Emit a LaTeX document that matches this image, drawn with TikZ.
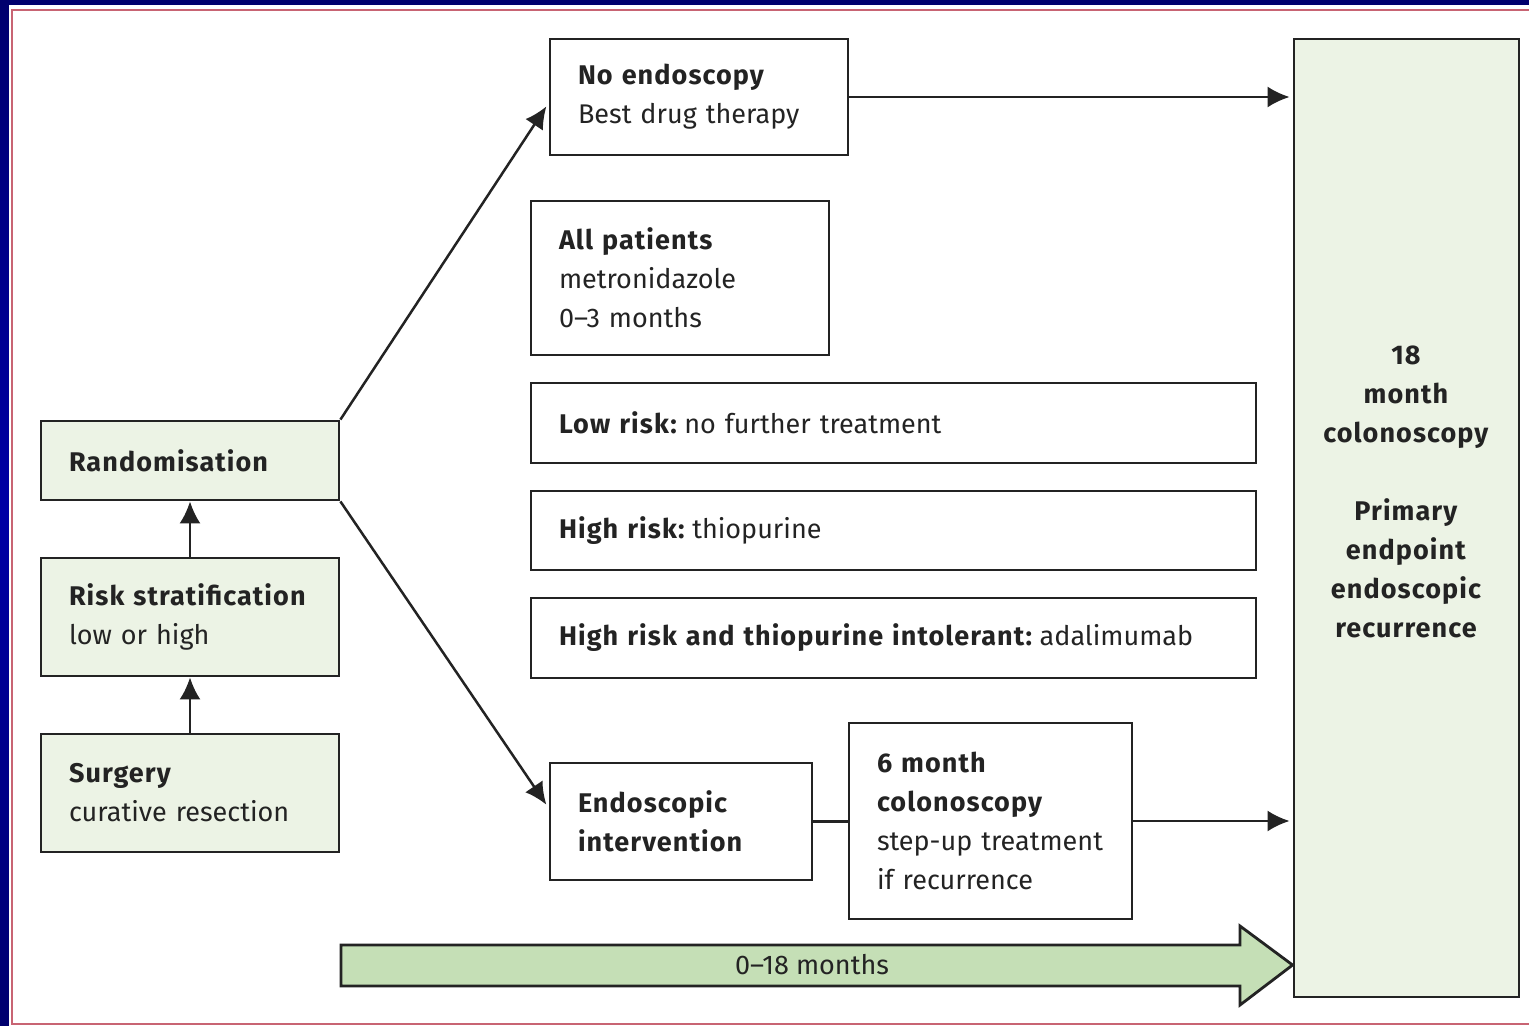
\documentclass[tikz,border=0pt]{standalone}
\usepackage{fontspec}
\setmainfont{Fira Sans}[BoldFeatures={LetterSpace=4}]
\usetikzlibrary{arrows.meta,calc}
\definecolor{navytop}{RGB}{0,0,110}
\definecolor{navymid}{RGB}{0,0,165}
\definecolor{redline}{RGB}{200,100,115}
\definecolor{boxgreen}{RGB}{236,243,229}
\definecolor{arrowgreen}{RGB}{197,223,182}
\definecolor{ink}{RGB}{35,35,35}
\newcommand{\tightgap}{\hspace{-3.5pt}}
\begin{document}
\begin{tikzpicture}[x=0.5pt,y=-0.5pt,
 box/.style={draw=ink, line width=1.4pt, rectangle, inner xsep=14pt, inner ysep=0pt,
   align=left, font=\fontsize{13.5}{19.5}\selectfont, text=ink},
 gbox/.style={box, fill=boxgreen},
 conn/.style={draw=ink, line width=1.25pt},
 arr/.style={conn, -{Latex[length=11pt,width=10.5pt]}},
 lbl/.style={font=\fontsize{13.5}{19.5}\selectfont, text=ink, inner sep=0pt}
]
\useasboundingbox (0,0) rectangle (1529,1026);
\shade[top color=navytop, bottom color=navytop, middle color=navymid] (0,0) rectangle (1529,1026);
\fill[white] (9,5) rectangle (1529,1026);
\draw[redline, line width=1pt] (1540,1024) -- (12,1024) -- (12,10) -- (1540,10);

% left column
\node[gbox, minimum width=149pt, minimum height=39.5pt, text width=121pt] (rd) at (190,460.5) {\textbf{Randomisation}};
\node[gbox, minimum width=149pt, minimum height=59pt, text width=121pt] (rs) at (190,617) {\textbf{Risk stratification}\\low or high};
\node[gbox, minimum width=149pt, minimum height=59pt, text width=121pt] (sg) at (190,793) {\textbf{Surgery}\\curative resection};

% middle
\node[box, minimum width=149pt, minimum height=58pt, text width=121pt] (ne) at (699,97) {\textbf{No endoscopy}\\Best drug therapy};
\node[box, minimum width=149pt, minimum height=77pt, text width=121pt] (ap) at (680,278) {\textbf{All patients}\\metronidazole\\0–3 months};
\node[box, minimum width=362.5pt, minimum height=40pt, text width=334.5pt] (lr) at (893.5,423) {\textbf{Low risk:} \tightgap no further treatment};
\node[box, minimum width=362.5pt, minimum height=39.5pt, text width=334.5pt] (hr) at (893.5,530.5) {\textbf{High risk:} \tightgap thiopurine};
\node[box, minimum width=362.5pt, minimum height=40pt, text width=334.5pt] (hi) at (893.5,638) {\textbf{High risk and thiopurine intolerant:} \tightgap adalimumab};
\node[box, minimum width=131pt, minimum height=58.5pt, text width=103pt] (ei) at (681,821.5) {\textbf{Endoscopic}\\\textbf{intervention}};
\node[box, minimum width=141.5pt, minimum height=98pt, text width=113.5pt] (sm) at (990.5,821) {\textbf{6 month}\\\textbf{colonoscopy}\\step-up treatment\\if recurrence};

% right
\node[gbox, minimum width=112.5pt, minimum height=479pt] (mc) at (1406.5,518) {};
\node[lbl, align=center] (mct) at (1406.5,492) {\textbf{18}\\\textbf{month}\\\textbf{colonoscopy}\\[19.5pt]\textbf{Primary}\\\textbf{endpoint}\\\textbf{endoscopic}\\\textbf{recurrence}};

% big arrow
\draw[ink, line width=1.4pt, fill=arrowgreen, line join=miter]
  (341,945) -- (1240,945) -- (1240,926) -- (mc.west |- 0,965) -- (1240,1005) -- (1240,986) -- (341,986) -- cycle;
\node[lbl] (tl) at (812,965) {0–18 months};

% connectors
\draw[arr] (sg.north) -- (rs.south);
\draw[arr] (rs.north) -- (rd.south);
\draw[arr, shorten >=2pt] (rd.north east) -- ([yshift=-3pt]ne.west);
\draw[arr, shorten >=2pt] (rd.south east) -- ([yshift=6.75pt]ei.west);
\draw[arr, shorten >=1.5pt] (ne.east) -- (ne.east -| mc.west);
\draw[conn] (ei.east) -- (ei.east -| sm.west);
\draw[arr, shorten >=1.5pt] (sm.east) -- (sm.east -| mc.west);
\end{tikzpicture}
\end{document}
